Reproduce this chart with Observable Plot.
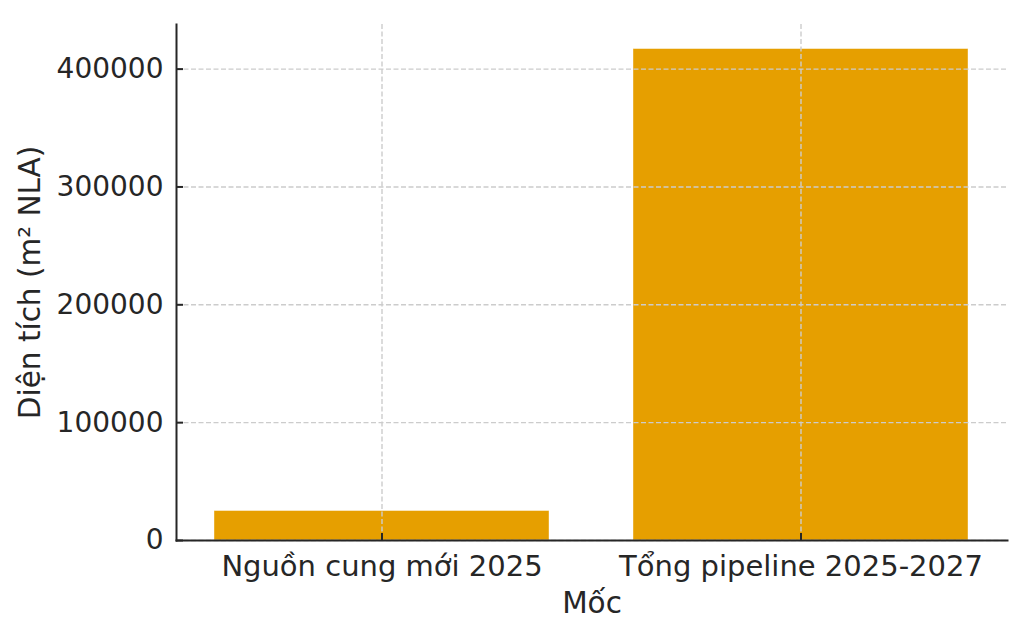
<!DOCTYPE html>
<html>
<head>
<meta charset="utf-8">
<script src="https://cdn.jsdelivr.net/npm/d3@7"></script>
<script src="https://cdn.jsdelivr.net/npm/@observablehq/plot@0.6"></script>
<style>
  html, body { margin: 0; padding: 0; background: white; }
</style>
</head>
<body>
<div id="chart"></div>
<script>
const categories = ["Nguồn cung mới 2025", "Tổng pipeline 2025-2027"];
const values = [25000, 417000];
const yTicks = [0, 100000, 200000, 300000, 400000];
const xLabel = "Mốc";
const yLabel = "Diện tích (m² NLA)";

const data = categories.map((c, i) => ({cat: c, value: values[i]}));
const ink = "#262626";
const gridStyle = {stroke: "#cccccc", strokeWidth: 1.4, strokeDasharray: "5,2.5", strokeOpacity: 1};

const chart = Plot.plot({
  width: 1024,
  height: 636,
  marginLeft: 176,
  marginRight: 17,
  marginTop: 24,
  marginBottom: 96,
  style: {fontFamily: "DejaVu Sans", fontSize: "28px", color: ink, background: "white"},
  x: {domain: categories, paddingInner: 0.2, paddingOuter: 0.09, label: null},
  y: {domain: [0, 437850], label: null},
  marks: [
    Plot.barY(data, {x: "cat", y: "value", fill: "#E69F00", stroke: "#ffffff", strokeWidth: 0.8, strokeOpacity: 0.5}),
    Plot.gridY(yTicks, gridStyle),
    Plot.gridX(categories, gridStyle),
    Plot.axisY(yTicks, {tickSize: 0, tickPadding: 13, tickFormat: d => String(d), label: null, fontSize: 28}),
    Plot.axisY(yTicks, {tickSize: 7, dx: 7, tickFormat: () => "", label: null, stroke: ink, strokeWidth: 2}),
    Plot.axisX(categories, {tickSize: 0, tickPadding: 15, label: null, fontSize: 29}),
    Plot.axisX(categories, {tickSize: 7, dy: -7, tickFormat: () => "", label: null, stroke: ink, strokeWidth: 2}),
    Plot.frame({anchor: "left", stroke: ink, strokeWidth: 2}),
    Plot.frame({anchor: "bottom", stroke: ink, strokeWidth: 2}),
    Plot.text([xLabel], {frameAnchor: "bottom", dy: 72, fontSize: 29.5, fill: ink}),
    Plot.text([yLabel], {frameAnchor: "left", textAnchor: "middle", rotate: -90, dx: -146, fontSize: 29.5, fill: ink})
  ]
});
document.getElementById("chart").appendChild(chart);
</script>
</body>
</html>
